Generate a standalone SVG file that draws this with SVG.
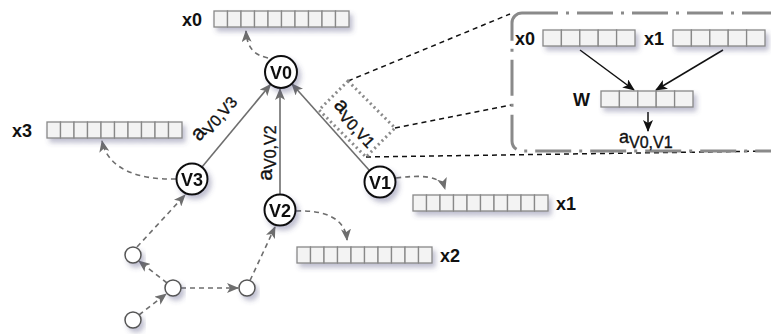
<svg xmlns="http://www.w3.org/2000/svg" width="771" height="334" viewBox="0 0 771 334">
  <defs>
    <style>
      .lbl { font-family: "Liberation Sans", Arial, sans-serif; font-weight: bold; font-size: 18px; fill: #111; }
      .nd { fill: #fff; stroke: #111; stroke-width: 2; }
      .sm { fill: #fff; stroke: #555; stroke-width: 1.5; }
      .cell { fill: #f3f3f3; stroke: #888; stroke-width: 1.3; }
      .edge { fill: none; stroke: #6e6e6e; stroke-width: 1.6; marker-end: url(#ga); }
      .flow { fill: none; stroke: #6e6e6e; stroke-width: 1.6; stroke-dasharray: 5 4; marker-end: url(#ga); }
      .blk { fill: none; stroke: #111; stroke-width: 1.5; marker-end: url(#ba); }
      .zoom { fill: none; stroke: #111; stroke-width: 1.5; stroke-dasharray: 5 4; }
      .elbl { font-family: "Liberation Sans", Arial, sans-serif; fill: #111; stroke: #111; stroke-width: 0.35; }
    </style>
    <filter id="sh" x="-20%" y="-40%" width="150%" height="200%">
      <feDropShadow dx="3" dy="4" stdDeviation="2.5" flood-color="#4a4a78" flood-opacity="0.35"/>
    </filter>
    <marker id="ga" viewBox="0 0 12 10" refX="11" refY="5" markerWidth="12" markerHeight="10" markerUnits="userSpaceOnUse" orient="auto">
      <path d="M0,0 L12,5 L0,10 L3,5 z" fill="#6e6e6e"/>
    </marker>
    <marker id="ba" viewBox="0 0 12 10" refX="11" refY="5" markerWidth="12" markerHeight="10" markerUnits="userSpaceOnUse" orient="auto">
      <path d="M0,0 L12,5 L0,10 L3,5 z" fill="#111"/>
    </marker>
    <!-- ten-cell feature vector -->
    <g id="vec10">
      <rect class="cell" x="0" y="0" width="13.5" height="16"/>
      <rect class="cell" x="13.5" y="0" width="13.5" height="16"/>
      <rect class="cell" x="27" y="0" width="13.5" height="16"/>
      <rect class="cell" x="40.5" y="0" width="13.5" height="16"/>
      <rect class="cell" x="54" y="0" width="13.5" height="16"/>
      <rect class="cell" x="67.5" y="0" width="13.5" height="16"/>
      <rect class="cell" x="81" y="0" width="13.5" height="16"/>
      <rect class="cell" x="94.5" y="0" width="13.5" height="16"/>
      <rect class="cell" x="108" y="0" width="13.5" height="16"/>
      <rect class="cell" x="121.5" y="0" width="13.5" height="16"/>
    </g>
    <!-- five-cell vector -->
    <g id="vec5">
      <rect class="cell" x="0" y="0" width="18.4" height="16"/>
      <rect class="cell" x="18.4" y="0" width="18.4" height="16"/>
      <rect class="cell" x="36.8" y="0" width="18.4" height="16"/>
      <rect class="cell" x="55.2" y="0" width="18.4" height="16"/>
      <rect class="cell" x="73.6" y="0" width="18.4" height="16"/>
    </g>
  </defs>

  <!-- connectors -->
  <g id="connectors">
    <!-- zoom guide lines -->
    <line class="zoom" x1="348" y1="81" x2="510" y2="14"/>
    <line class="zoom" x1="395" y1="128" x2="511" y2="105"/>
    <line class="zoom" x1="366" y1="157" x2="771" y2="151"/>
    <!-- dotted highlight around edge weight -->
    <polygon points="348,81 395,128 366,157 319,110" fill="none" stroke="#8a8a8a" stroke-width="3" stroke-dasharray="2 3.2"/>

    <!-- edges into V0 -->
    <line class="edge" x1="201.6" y1="167.5" x2="270.5" y2="84.5"/>
    <line class="edge" x1="280" y1="194" x2="280" y2="89"/>
    <line class="edge" x1="369" y1="170" x2="292" y2="84"/>

    <!-- node to feature vector -->
    <path class="flow" d="M268,58 C255,55 247,49 246,31"/>
    <path class="flow" d="M176,179 C140,180 108,170 102,141"/>
    <path class="flow" d="M396,178 C420,175 441,175 445,189"/>
    <path class="flow" d="M296,211 C325,210 345,218 347,240"/>

    <!-- walk through the small graph -->
    <line class="flow" x1="139" y1="315" x2="166" y2="294"/>
    <line class="flow" x1="167" y1="283" x2="139" y2="261"/>
    <line class="flow" x1="181" y1="288" x2="238" y2="288"/>
    <line class="flow" x1="250" y1="280.5" x2="275" y2="227"/>
    <line class="flow" x1="137" y1="247" x2="185" y2="195"/>

    <!-- inset arrows -->
    <line class="blk" x1="580" y1="50" x2="634" y2="90"/>
    <line class="blk" x1="723" y1="50" x2="656" y2="90"/>
    <line class="blk" x1="648" y1="112" x2="648" y2="131"/>
  </g>

  <!-- edge weight labels -->
  <g id="edge-labels" class="elbl">
    <text transform="translate(215,119) rotate(-50)" text-anchor="middle" y="3"><tspan font-size="21">a</tspan><tspan font-size="16" dy="4">V0,V3</tspan></text>
    <text transform="translate(269,153) rotate(-90)" text-anchor="middle" y="3"><tspan font-size="21">a</tspan><tspan font-size="16" dy="4">V0,V2</tspan></text>
    <text transform="translate(354,124) rotate(47)" text-anchor="middle" y="3"><tspan font-size="21">a</tspan><tspan font-size="16" dy="4">V0,V1</tspan></text>
  </g>

  <!-- feature vectors -->
  <g id="x0">
    <use href="#vec10" x="214" y="11" filter="url(#sh)"/>
    <text class="lbl" x="182" y="26">x0</text>
  </g>
  <g id="x3">
    <use href="#vec10" x="47" y="122" filter="url(#sh)"/>
    <text class="lbl" x="12" y="137">x3</text>
  </g>
  <g id="x1">
    <use href="#vec10" x="413" y="195" filter="url(#sh)"/>
    <text class="lbl" x="556" y="210">x1</text>
  </g>
  <g id="x2">
    <use href="#vec10" x="297" y="247" filter="url(#sh)"/>
    <text class="lbl" x="440" y="262">x2</text>
  </g>

  <!-- named nodes -->
  <g id="V0" filter="url(#sh)">
    <circle class="nd" cx="281" cy="72" r="16"/>
    <text class="lbl" x="281" y="78.5" text-anchor="middle">V0</text>
  </g>
  <g id="V3" filter="url(#sh)">
    <circle class="nd" cx="192" cy="179" r="15.5"/>
    <text class="lbl" x="192" y="185.5" text-anchor="middle">V3</text>
  </g>
  <g id="V2" filter="url(#sh)">
    <circle class="nd" cx="280" cy="210" r="15.5"/>
    <text class="lbl" x="280" y="216.5" text-anchor="middle">V2</text>
  </g>
  <g id="V1" filter="url(#sh)">
    <circle class="nd" cx="380" cy="182" r="15.5"/>
    <text class="lbl" x="380" y="188.5" text-anchor="middle">V1</text>
  </g>

  <!-- unnamed nodes -->
  <g id="n1" filter="url(#sh)"><circle class="sm" cx="133" cy="255" r="8"/></g>
  <g id="n2" filter="url(#sh)"><circle class="sm" cx="173" cy="288" r="8"/></g>
  <g id="n3" filter="url(#sh)"><circle class="sm" cx="247" cy="288" r="8"/></g>
  <g id="n4" filter="url(#sh)"><circle class="sm" cx="133" cy="320" r="8"/></g>

  <!-- inset: attention weight computation -->
  <g id="inset">
    <rect x="512" y="13" width="300" height="138" rx="10" fill="none" stroke="#8a8a8a" stroke-width="3" stroke-dasharray="36 8 3 8"/>
    <g id="ix0">
      <use href="#vec5" x="543" y="30" filter="url(#sh)"/>
      <text class="lbl" x="515" y="45">x0</text>
    </g>
    <g id="ix1">
      <use href="#vec5" x="673" y="30" filter="url(#sh)"/>
      <text class="lbl" x="644" y="45">x1</text>
    </g>
    <g id="W">
      <use href="#vec5" x="601" y="91" filter="url(#sh)"/>
      <text class="lbl" x="573" y="106">W</text>
    </g>
    <text class="elbl" x="619" y="143"><tspan font-size="18">a</tspan><tspan font-size="16" dy="5">V0,V1</tspan></text>
  </g>
</svg>
